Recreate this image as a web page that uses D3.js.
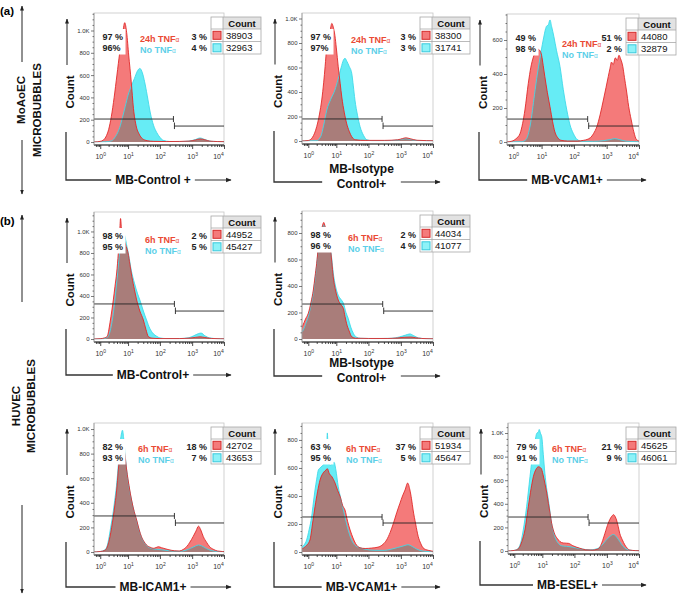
<!DOCTYPE html>
<html><head><meta charset="utf-8">
<script src="https://cdn.jsdelivr.net/npm/d3@7"></script>
<style>
body{margin:0;background:#fff}
svg{display:block}
text{font-family:"Liberation Sans",Arial,Helvetica,sans-serif}
</style>
</head><body>
<svg id="c" width="677" height="595"></svg>
<script>
// ---------------- DATA ----------------
const decades = [0, 1, 2, 3, 4];
const minorDecades = [];
for (let n = -1; n <= 3; n++) for (let k = 2; k <= 9; k++) { const v = n + Math.log10(k); if (v > -0.2) minorDecades.push(v); }

const axisTitles = [["MB-Control +"], ["MB-Isotype", "Control+"], ["MB-VCAM1+"], ["MB-Control+"], ["MB-Isotype", "Control+"], ["MB-ICAM1+"], ["MB-VCAM1+"], ["MB-ESEL+"]];
const treatLabels = ["24h TNF", "24h TNF", "24h TNF", "6h TNF", "6h TNF", "6h TNF", "6h TNF", "6h TNF"];
const controlLabel = "No TNF";
const leftPct = [["97 %", "96%"], ["97 %", "97%"], ["49 %", "98 %"], ["98 %", "95 %"], ["98 %", "96 %"], ["82 %", "93 %"], ["63 %", "95 %"], ["79 %", "91 %"]];
const rightPct = [["3 %", "4 %"], ["3 %", "3 %"], ["51 %", "2 %"], ["2 %", "5 %"], ["2 %", "4 %"], ["18 %", "7 %"], ["37 %", "5 %"], ["21 %", "9 %"]];
const eventCounts = [[38903, 32963], [38300, 31741], [44080, 32879], [44952, 45427], [44034, 41077], [42702, 43653], [51934, 45647], [45625, 46061]];
const yMax = [1157, 1045, 753, 1181, 966, 1049, 921, 1085];
const yTickSets = [[0,200,400,600,800,1000],[0,200,400,600,800,1000],[0,200,400,600],[0,200,400,600,800,1000],[0,200,400,600,800],[0,200,400,600,800,1000],[0,200,400,600,800],[0,200,400,600,800,1000]];
const gateLeft = [206, 180, 135, 326, 264, 293, 250, 288];
const gateRight = [143, 122, 94, 260, 211, 236, 207, 237];
const gateSplit = [2.42, 2.42, 2.42, 2.45, 2.44, 2.45, 2.42, 2.42];

const a1Red = [[-0.25,0],[-0.1,2],[0,6],[0.1,15],[0.2,45],[0.3,110],[0.4,230],[0.5,400],[0.6,600],[0.7,800],[0.8,960],[0.88,1070],[0.95,980],[1.02,780],[1.1,540],[1.17,300],[1.25,150],[1.35,70],[1.45,30],[1.6,12],[1.8,6],[2.2,4],[2.6,5],[2.9,8],[3.1,18],[3.25,28],[3.4,20],[3.55,8],[3.8,4],[4.1,2]];
const a1Cyan = [[-0.25,0],[0.2,2],[0.4,10],[0.55,50],[0.7,130],[0.8,220],[0.9,320],[1.0,420],[1.1,500],[1.2,570],[1.3,640],[1.37,660],[1.45,620],[1.52,540],[1.6,420],[1.7,260],[1.8,150],[1.9,85],[2.0,42],[2.1,15],[2.3,5],[2.6,4],[2.9,8],[3.1,22],[3.25,36],[3.4,22],[3.6,6],[3.9,3],[4.1,1]];
const a2Red = [[-0.25,0],[0,4],[0.15,30],[0.3,117],[0.4,220],[0.48,335],[0.55,480],[0.6,607],[0.66,770],[0.72,850],[0.77,890],[0.84,960],[0.89,930],[0.95,860],[1.0,760],[1.06,606],[1.12,470],[1.17,360],[1.25,230],[1.32,145],[1.4,80],[1.48,35],[1.6,10],[1.9,5],[2.5,5],[2.9,10],[3.05,20],[3.15,26],[3.3,18],[3.5,6],[3.8,3],[4.1,1]];
const a2Cyan = [[-0.25,0],[0.3,3],[0.45,40],[0.55,130],[0.66,253],[0.8,340],[0.95,416],[1.05,500],[1.15,600],[1.22,660],[1.27,675],[1.33,650],[1.4,610],[1.48,553],[1.53,450],[1.58,335],[1.66,210],[1.74,117],[1.85,45],[1.95,10],[2.1,3],[2.6,3],[2.9,8],[3.05,15],[3.15,19],[3.3,13],[3.5,4],[3.8,2],[4.1,1]];
const a3Red = [[-0.25,0],[-0.05,5],[0.1,20],[0.24,51],[0.33,110],[0.41,188],[0.53,345],[0.62,440],[0.71,500],[0.8,535],[0.88,545],[0.95,535],[1.0,510],[1.05,450],[1.1,385],[1.18,290],[1.26,207],[1.34,120],[1.41,60],[1.5,25],[1.6,10],[1.8,6],[2.1,6],[2.3,10],[2.5,25],[2.6,50],[2.7,90],[2.8,160],[2.9,247],[2.98,320],[3.05,385],[3.1,430],[3.15,470],[3.2,455],[3.27,495],[3.33,480],[3.38,510],[3.43,490],[3.5,443],[3.55,380],[3.61,306],[3.68,210],[3.76,130],[3.84,60],[3.92,15],[4.05,3]];
const a3Cyan = [[-0.25,0],[0.3,2],[0.45,15],[0.6,100],[0.75,280],[0.85,400],[0.94,490],[1.05,600],[1.15,680],[1.21,690],[1.26,718],[1.31,680],[1.38,620],[1.46,540],[1.57,443],[1.67,310],[1.78,188],[1.88,100],[1.98,51],[2.1,15],[2.25,4],[2.6,4],[2.9,8],[3.1,14],[3.25,20],[3.4,14],[3.6,5],[3.9,2],[4.05,1]];
const b1Red = [[-0.25,0],[0,3],[0.15,10],[0.25,25],[0.35,150],[0.42,270],[0.47,363],[0.53,490],[0.59,614],[0.65,800],[0.7,1000],[0.73,1120],[0.77,1000],[0.85,930],[0.93,860],[0.97,830],[1.0,800],[1.06,690],[1.12,580],[1.2,460],[1.27,363],[1.37,260],[1.48,177],[1.56,90],[1.64,21],[1.75,8],[2.0,4],[2.6,4],[2.9,8],[3.1,15],[3.25,20],[3.4,14],[3.6,5],[3.9,2],[4.1,1]];
const b1Cyan = [[-0.25,0],[0.1,2],[0.25,15],[0.38,100],[0.5,300],[0.6,550],[0.7,820],[0.8,1000],[0.88,960],[0.96,860],[1.02,780],[1.1,640],[1.2,520],[1.3,420],[1.37,363],[1.47,270],[1.58,177],[1.68,100],[1.79,50],[1.9,25],[2.0,10],[2.2,4],[2.6,4],[2.9,12],[3.05,30],[3.2,50],[3.28,55],[3.4,30],[3.55,10],[3.8,3],[4.1,1]];
const b2Red = [[-0.25,80],[-0.2,100],[-0.1,150],[0,194],[0.1,280],[0.18,370],[0.24,470],[0.3,571],[0.36,697],[0.42,790],[0.5,850],[0.55,880],[0.6,850],[0.67,800],[0.73,750],[0.78,697],[0.84,580],[0.89,470],[0.97,370],[1.06,294],[1.14,260],[1.22,230],[1.27,170],[1.32,117],[1.4,60],[1.48,17],[1.6,6],[2.0,4],[2.6,4],[2.9,8],[3.1,13],[3.3,15],[3.45,10],[3.65,4],[4.1,1]];
const b2Cyan = [[-0.25,50],[-0.2,60],[-0.1,110],[0,170],[0.1,260],[0.18,350],[0.24,450],[0.3,560],[0.36,690],[0.42,780],[0.5,840],[0.55,860],[0.6,840],[0.67,800],[0.73,750],[0.78,700],[0.84,600],[0.89,500],[0.97,400],[1.06,330],[1.14,300],[1.22,270],[1.3,200],[1.37,156],[1.45,90],[1.53,43],[1.62,15],[1.75,5],[2.2,3],[2.7,5],[2.95,15],[3.15,30],[3.28,38],[3.4,25],[3.55,8],[3.8,2],[4.1,1]];
const b3Red = [[-0.25,0],[0,4],[0.15,12],[0.25,40],[0.35,125],[0.41,200],[0.47,287],[0.53,390],[0.59,504],[0.65,667],[0.7,800],[0.76,900],[0.82,880],[0.88,800],[0.95,667],[1.03,540],[1.11,423],[1.19,330],[1.27,260],[1.35,180],[1.42,125],[1.5,85],[1.58,57],[1.7,38],[1.79,30],[1.88,36],[1.95,43],[2.05,35],[2.25,20],[2.45,10],[2.6,8],[2.72,20],[2.83,43],[2.93,80],[3.03,125],[3.12,170],[3.2,210],[3.27,180],[3.35,125],[3.45,80],[3.55,43],[3.68,20],[3.8,8],[4.1,2]];
const b3Cyan = [[-0.25,0],[0,4],[0.15,15],[0.25,50],[0.32,125],[0.39,220],[0.45,300],[0.52,420],[0.58,530],[0.64,680],[0.7,850],[0.76,960],[0.8,990],[0.84,930],[0.9,780],[0.95,667],[1.03,530],[1.11,420],[1.19,330],[1.27,255],[1.35,175],[1.42,120],[1.5,80],[1.58,52],[1.7,32],[1.79,25],[1.9,22],[2.05,18],[2.3,10],[2.6,6],[2.8,14],[2.95,30],[3.1,48],[3.2,57],[3.3,50],[3.45,28],[3.6,12],[3.8,4],[4.1,1]];
const b4Red = [[-0.25,20],[-0.1,40],[0.06,86],[0.15,200],[0.24,323],[0.33,430],[0.42,514],[0.55,570],[0.63,585],[0.68,595],[0.75,560],[0.84,538],[0.96,490],[1.04,440],[1.12,395],[1.2,330],[1.27,300],[1.35,220],[1.43,157],[1.52,100],[1.6,60],[1.74,30],[1.9,25],[2.1,28],[2.3,35],[2.45,55],[2.56,86],[2.67,140],[2.77,205],[2.87,280],[2.97,348],[3.05,400],[3.13,443],[3.21,492],[3.28,443],[3.33,380],[3.38,300],[3.46,200],[3.54,110],[3.62,60],[3.69,30],[3.85,12],[4.1,3]];
const b4Cyan = [[-0.25,30],[-0.15,50],[-0.06,86],[0.03,160],[0.12,252],[0.18,350],[0.24,443],[0.3,520],[0.36,586],[0.42,600],[0.5,615],[0.6,640],[0.65,700],[0.68,850],[0.71,700],[0.76,620],[0.84,625],[0.92,640],[0.98,590],[1.06,466],[1.14,380],[1.22,300],[1.3,220],[1.37,157],[1.45,100],[1.53,62],[1.63,40],[1.74,30],[1.9,20],[2.2,12],[2.5,12],[2.7,20],[2.9,32],[3.1,45],[3.22,52],[3.35,40],[3.5,20],[3.7,6],[4.1,1]];
const b5Red = [[-0.25,0],[0,5],[0.15,20],[0.27,80],[0.38,178],[0.5,375],[0.6,530],[0.68,630],[0.77,690],[0.86,714],[0.96,700],[1.02,650],[1.08,573],[1.14,490],[1.19,404],[1.24,320],[1.29,235],[1.34,180],[1.39,140],[1.47,105],[1.55,80],[1.65,68],[1.75,66],[1.81,65],[1.95,45],[2.15,25],[2.35,10],[2.55,8],[2.7,15],[2.79,36],[2.87,90],[2.94,150],[3.04,235],[3.14,290],[3.21,308],[3.26,290],[3.3,263],[3.35,210],[3.4,150],[3.48,95],[3.56,51],[3.64,22],[3.71,8],[3.9,3],[4.1,1]];
const b5Cyan = [[-0.25,0],[0,5],[0.15,25],[0.25,90],[0.32,178],[0.38,270],[0.44,375],[0.5,500],[0.56,630],[0.62,750],[0.68,856],[0.74,930],[0.8,997],[0.86,1010],[0.89,1030],[0.93,1000],[0.98,968],[1.03,820],[1.08,658],[1.13,540],[1.19,432],[1.24,330],[1.29,235],[1.34,170],[1.39,121],[1.47,75],[1.55,51],[1.65,42],[1.75,40],[1.95,32],[2.2,18],[2.5,10],[2.7,20],[2.85,50],[2.97,90],[3.1,125],[3.2,140],[3.3,120],[3.4,80],[3.5,40],[3.62,15],[3.8,4],[4.1,1]];

const redSeries = [a1Red, a2Red, a3Red, b1Red, b2Red, b3Red, b4Red, b5Red];
const cyanSeries = [a1Cyan, a2Cyan, a3Cyan, b1Cyan, b2Cyan, b3Cyan, b4Cyan, b5Cyan];

// ---------------- LAYOUT / STYLE ----------------
const layout = [
  {x0:94, x1:224, top:13,  bottom:145, zero:142, tx:46, tdy:0, ly:35},
  {x0:302,x1:433, top:13,  bottom:144, zero:141, tx:49, tdy:1, ly:38},
  {x0:507,x1:639, top:14,  bottom:145, zero:142, tx:55, tdy:4, ly:35},
  {x0:94, x1:224, top:212, bottom:342, zero:339, tx:51, tdy:2, ly:33},
  {x0:302,x1:433, top:211, bottom:342, zero:339, tx:46, tdy:1, ly:34},
  {x0:94, x1:224, top:423, bottom:555, zero:552, tx:44, tdy:0, ly:32},
  {x0:302,x1:433, top:423, bottom:555, zero:552, tx:44, tdy:0, ly:32},
  {x0:508,x1:639, top:423, bottom:554, zero:551, tx:44, tdy:0, ly:31}
];
const tickFrac = [0.048, 0.262, 0.507, 0.755, 1.0];
const RED_FILL = "#f47a7a", CY_FILL = "#66ecf5", OV_FILL = "#a97d7a";
const RED_LINE = "#e12a2a", CY_LINE = "#40d9e9";
const RED_TXT = "#ea4a35", CY_TXT = "#5ccfe8";

const svg = d3.select("#c");
const defs = svg.append("defs");
defs.append("marker").attr("id", "ah").attr("viewBox", "0 0 10 10")
  .attr("refX", 9).attr("refY", 5).attr("markerWidth", 5).attr("markerHeight", 5)
  .attr("orient", "auto").append("path").attr("d", "M0,1 L10,5 L0,9 z").attr("fill", "#222");

function arrowLine(g, x1, y1, x2, y2, w, col) {
  g.append("line").attr("x1", x1).attr("y1", y1).attr("x2", x2).attr("y2", y2)
    .attr("stroke", col || "#222").attr("stroke-width", w || 1).attr("marker-end", "url(#ah)");
}

// ---------------- ROW LABELS ----------------
svg.append("text").attr("x", 0).attr("y", 15).attr("font-size", "11.5px").attr("font-weight", "bold").text("(a)");
svg.append("text").attr("x", 0).attr("y", 225).attr("font-size", "11.5px").attr("font-weight", "bold").text("(b)");
arrowLine(svg, 22, 62, 22, 6, 1);
arrowLine(svg, 22, 140, 22, 194, 1);
arrowLine(svg, 22, 302, 22, 215, 1);
arrowLine(svg, 22, 505, 22, 593, 1);
function vtext(x, y, s) {
  svg.append("text").attr("transform", `translate(${x},${y}) rotate(-90)`).attr("text-anchor", "middle")
    .attr("dy", "0.35em").attr("font-size", "11.5px").attr("font-weight", "bold").attr("fill", "#111").text(s);
}
vtext(21, 100, "MoAoEC");
vtext(37, 110, "MICROBUBBLES");
vtext(16, 406, "HUVEC");
vtext(31, 406, "MICROBUBBLES");

// ---------------- PANELS ----------------
layout.forEach((L, i) => {
  const W = L.x1 - L.x0;
  const x = d3.scaleLinear().domain(decades).range(tickFrac.map(f => L.x0 + f * W));
  const y = d3.scaleLinear().domain([0, yMax[i]]).range([L.zero, L.top]);
  const g = svg.append("g");

  g.append("rect").attr("x", L.x0).attr("y", L.top).attr("width", W).attr("height", L.bottom - L.top)
    .attr("fill", "#fff").attr("stroke", "#c6c6c6").attr("stroke-width", 0.8);

  defs.append("clipPath").attr("id", "f" + i).append("rect")
    .attr("x", L.x0).attr("y", L.top).attr("width", W).attr("height", L.zero - L.top + 0.6);
  const area = d3.area().x(d => x(d[0])).y0(y(0)).y1(d => y(d[1])).curve(d3.curveMonotoneX);
  const line = d3.line().x(d => x(d[0])).y(d => y(d[1])).curve(d3.curveMonotoneX);
  defs.append("clipPath").attr("id", "cy" + i).append("path").attr("d", area(cyanSeries[i]));

  const h = g.append("g").attr("clip-path", `url(#f${i})`);
  h.append("path").attr("d", area(cyanSeries[i])).attr("fill", CY_FILL);
  h.append("path").attr("d", area(redSeries[i])).attr("fill", RED_FILL);
  h.append("g").attr("clip-path", `url(#cy${i})`).append("path").attr("d", area(redSeries[i])).attr("fill", OV_FILL);
  h.append("path").attr("d", line(cyanSeries[i])).attr("fill", "none").attr("stroke", CY_LINE).attr("stroke-width", 0.9);
  h.append("path").attr("d", line(redSeries[i])).attr("fill", "none").attr("stroke", RED_LINE).attr("stroke-width", 0.9);

  // gates
  const xs = x(gateSplit[i]), yl = y(gateLeft[i]), yr = y(gateRight[i]);
  const gg = g.append("g").attr("stroke", "#222").attr("stroke-width", 0.9);
  gg.append("line").attr("x1", L.x0).attr("x2", xs).attr("y1", yl).attr("y2", yl);
  gg.append("line").attr("x1", xs).attr("x2", xs).attr("y1", yl - 3).attr("y2", yl + 3);
  gg.append("line").attr("x1", xs + 1).attr("x2", L.x1).attr("y1", yr).attr("y2", yr);
  gg.append("line").attr("x1", xs + 1).attr("x2", xs + 1).attr("y1", yr - 3.5).attr("y2", yr + 3);

  // bottom axis
  g.append("line").attr("x1", L.x0).attr("x2", L.x1).attr("y1", L.bottom).attr("y2", L.bottom).attr("stroke", "#111").attr("stroke-width", 1);
  const minorAx = g.append("g").attr("transform", `translate(0,${L.bottom})`)
    .call(d3.axisBottom(x).tickValues(minorDecades).tickSize(2).tickSizeOuter(0).tickFormat(""));
  const majorAx = g.append("g").attr("transform", `translate(0,${L.bottom})`)
    .call(d3.axisBottom(x).tickValues(decades).tickSize(4).tickSizeOuter(0));
  [minorAx, majorAx].forEach(a => { a.select(".domain").remove(); a.selectAll("line").attr("stroke", "#222").attr("stroke-width", 0.8); });
  majorAx.selectAll("text").each(function (d) {
    const t = d3.select(this);
    t.text(null).attr("y", 14).attr("dy", 0).attr("font-size", "7px").attr("fill", "#333")
      .attr("font-family", '"Liberation Sans",Arial,sans-serif');
    if (d === 4) t.attr("x", -6);
    t.append("tspan").text("10");
    t.append("tspan").attr("dy", -3.5).attr("font-size", "5px").text(d);
  });

  // left axis
  g.append("line").attr("x1", L.x0).attr("x2", L.x0).attr("y1", L.top).attr("y2", L.bottom).attr("stroke", "#9a9a9a").attr("stroke-width", 0.8);
  const yMinor = d3.range(50, yMax[i], 50).filter(v => v % 200 !== 0);
  const yMinAx = g.append("g").attr("transform", `translate(${L.x0},0)`)
    .call(d3.axisLeft(y).tickValues(yMinor).tickSize(1.5).tickSizeOuter(0).tickFormat(""));
  const yMajAx = g.append("g").attr("transform", `translate(${L.x0},0)`)
    .call(d3.axisLeft(y).tickValues(yTickSets[i]).tickSize(3).tickSizeOuter(0)
      .tickFormat(v => v >= 1000 ? (v / 1000).toFixed(1) + "K" : v));
  [yMinAx, yMajAx].forEach(a => { a.select(".domain").remove(); a.selectAll("line").attr("stroke", "#444").attr("stroke-width", 0.7); });
  yMajAx.selectAll("text").attr("font-size", "6px").attr("fill", "#333").attr("x", -4.5)
    .attr("font-family", '"Liberation Sans",Arial,sans-serif');

  // Count label + arrow
  const cy = (L.top + L.bottom) / 2 + 13;
  g.append("text").attr("transform", `translate(${L.x0 - 24},${cy}) rotate(-90)`).attr("text-anchor", "middle")
    .attr("dy", "0.35em").attr("font-size", "11.5px").attr("font-weight", "bold").attr("fill", "#111").text("Count");
  arrowLine(g, L.x0 - 27, cy - 27, L.x0 - 27, L.top + 6, 1);

  // L-shaped axis line with title
  const Lx = L.x0 - 28, lineY = L.bottom + L.ly;
  const titles = axisTitles[i];
  const tcx = L.x0 + W / 2 - 6;
  let maxW = 0;
  titles.forEach((s, k) => {
    const yy = titles.length === 1 ? lineY + 4 : (k === 0 ? lineY - 9 : lineY + 6);
    const t = g.append("text").attr("x", tcx).attr("y", yy).attr("text-anchor", "middle")
      .attr("font-size", "12px").attr("font-weight", "bold").attr("fill", "#111").text(s);
    maxW = Math.max(maxW, t.node().getComputedTextLength());
  });
  const pad = titles.length === 1 ? 4 : 7;
  g.append("polyline").attr("points", `${Lx},${L.bottom - 13} ${Lx},${lineY} ${tcx - maxW / 2 - pad},${lineY}`)
    .attr("fill", "none").attr("stroke", "#333").attr("stroke-width", 1.3);
  arrowLine(g, tcx + maxW / 2 + pad, lineY, L.x1 + 7, lineY, 1.1, "#333");

  // white label box + left percentages
  const b1 = L.top + 26.5, b2 = L.top + 38;
  const pg = g.append("g");
  const box = pg.append("rect").attr("fill", "#fff");
  let pw = 0;
  leftPct[i].forEach((s, k) => {
    const t = pg.append("text").attr("x", L.x0 + 8.5).attr("y", k ? b2 : b1).attr("font-size", "9px")
      .attr("font-weight", "bold").attr("fill", "#222").text(s);
    pw = Math.max(pw, t.node().getComputedTextLength());
  });
  box.attr("x", L.x0 + 6).attr("y", b1 - 10.5).attr("width", pw + 5).attr("height", b2 - b1 + 14);

  // treatment labels
  [[treatLabels[i], RED_TXT], [controlLabel, CY_TXT]].forEach(([s, c], k) => {
    const t = g.append("text").attr("x", L.x0 + L.tx).attr("y", (k ? b2 : b1) + 2 + L.tdy)
      .attr("font-size", "9px").attr("font-weight", "bold").attr("fill", c);
    t.append("tspan").text(s);
    t.append("tspan").attr("font-size", "6.5px").attr("font-weight", "normal").text("α");
  });

  // legend
  const lx = L.x1 - 13, ly = L.top + 4, lw = 50, c1 = 12, hh = 12, rh = 12.5;
  rightPct[i].forEach((s, k) => {
    g.append("text").attr("x", lx - 4).attr("y", k ? b2 : b1).attr("text-anchor", "end")
      .attr("font-size", "9px").attr("font-weight", "bold").attr("fill", "#222").text(s);
  });
  const lg = g.append("g");
  lg.append("rect").attr("x", lx).attr("y", ly).attr("width", lw).attr("height", hh + 2 * rh).attr("fill", "#fff");
  lg.append("rect").attr("x", lx + c1).attr("y", ly).attr("width", lw - c1).attr("height", hh).attr("fill", "#e2e2e2");
  const gl = lg.append("g").attr("stroke", "#a8a8a8").attr("stroke-width", 0.8).attr("fill", "none");
  gl.append("rect").attr("x", lx).attr("y", ly).attr("width", lw).attr("height", hh + 2 * rh);
  gl.append("line").attr("x1", lx + c1).attr("x2", lx + c1).attr("y1", ly).attr("y2", ly + hh + 2 * rh);
  gl.append("line").attr("x1", lx).attr("x2", lx + lw).attr("y1", ly + hh).attr("y2", ly + hh);
  gl.append("line").attr("x1", lx).attr("x2", lx + lw).attr("y1", ly + hh + rh).attr("y2", ly + hh + rh);
  lg.append("text").attr("x", lx + c1 + (lw - c1) / 2).attr("y", ly + hh - 2.5).attr("text-anchor", "middle")
    .attr("font-size", "9.5px").attr("font-weight", "bold").attr("fill", "#111").text("Count");
  const sw = [[RED_FILL, "#d42a2a"], ["#8ef2f8", "#38c8dc"]];
  eventCounts[i].forEach((v, k) => {
    const ry = ly + hh + k * rh;
    lg.append("rect").attr("x", lx + 2).attr("y", ry + 2.3).attr("width", 8).attr("height", 8)
      .attr("fill", sw[k][0]).attr("stroke", sw[k][1]).attr("stroke-width", 1);
    lg.append("text").attr("x", lx + c1 + 3).attr("y", ry + rh - 2.8).attr("font-size", "9.5px")
      .attr("fill", "#111").text(v);
  });
});
</script>
</body></html>
